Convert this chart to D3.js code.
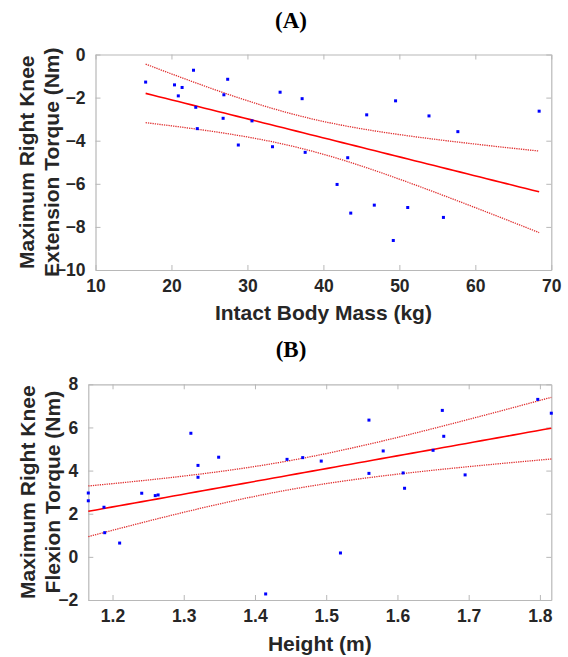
<!DOCTYPE html>
<html>
<head>
<meta charset="utf-8">
<script src="https://cdn.jsdelivr.net/npm/d3@7"></script>
<style>
  body { margin: 0; background: #ffffff; }
  svg { display: block; }
</style>
</head>
<body>
<div id="graph"></div>
<script>
// Panel A: body mass (kg) vs extension torque (Nm)
var massKg = [16.6, 22.9, 20.4, 21.4, 20.9, 27.4, 26.9, 23.2, 26.8, 23.4,
              30.6, 34.3, 37.2, 28.8, 33.3, 37.6, 43.2, 45.7, 49.5, 53.9,
              57.7, 68.4, 41.8, 43.6, 46.7, 51.1, 49.2, 55.8];
var extTorque = [-1.28, -0.73, -1.41, -1.53, -1.92, -1.15, -1.87, -2.45, -2.96, -3.44,
                 -3.08, -1.75, -2.05, -4.20, -4.28, -4.54, -4.79, -2.80, -2.15, -2.85,
                 -3.58, -2.63, -6.03, -7.36, -6.99, -7.10, -8.63, -7.56];

// Panel B: height (m) vs flexion torque (Nm)
var heightM = [1.310, 1.320, 1.320, 1.349, 1.445, 1.467, 1.493, 1.560, 1.580, 1.560,
               1.608, 1.663, 1.665, 1.650, 1.695, 1.797, 1.816, 1.166, 1.166, 1.188,
               1.189, 1.210, 1.241, 1.260, 1.264, 1.415, 1.610, 1.520];
var flexTorque = [5.73, 4.24, 3.69, 4.62, 4.52, 4.60, 4.44, 6.34, 4.91, 3.87,
                  3.89, 6.79, 5.59, 4.94, 3.80, 7.30, 6.66, 2.96, 2.60, 2.30,
                  1.12, 0.64, 2.95, 2.84, 2.87, -1.72, 3.18, 0.18];

var ticksA_x = [10, 20, 30, 40, 50, 60, 70];
var ticksA_y = [-10, -8, -6, -4, -2, 0];
var ticksB_x = [1.2, 1.3, 1.4, 1.5, 1.6, 1.7, 1.8];
var ticksB_y = [-2, 0, 2, 4, 6, 8];

var W = 568, H = 657;
var axisColour = '#b8b8b8';
var textColour = '#262626';

var svg = d3.select('#graph').append('svg')
            .attr('width', W)
            .attr('height', H);

//
// least squares fit with 95% confidence bounds on the mean
//
function fitLine (xs, ys)
{
    var n = xs.length;
    var mx = d3.mean(xs), my = d3.mean(ys);
    var sxx = 0, sxy = 0;
    for (var i = 0; i < n; i++)
    {
        sxx += (xs[i] - mx) * (xs[i] - mx);
        sxy += (xs[i] - mx) * (ys[i] - my);
    }
    var b = sxy / sxx, a = my - b * mx;
    var sse = 0;
    for (var i = 0; i < n; i++)
        sse += Math.pow(ys[i] - (a + b * xs[i]), 2);
    var s = Math.sqrt(sse / (n - 2));
    var t = 2.056;  // t(0.975, 26)

    var x0 = d3.min(xs), x1 = d3.max(xs);
    var pts = [];
    for (var k = 0; k <= 60; k++)
    {
        var x = x0 + (x1 - x0) * k / 60;
        var yh = a + b * x;
        var hw = t * s * Math.sqrt(1 / n + (x - mx) * (x - mx) / sxx);
        pts.push({ x: x, y: yh, lo: yh - hw, hi: yh + hw });
    }
    return pts;
}

function drawPanel (opt)
{
    var g = svg.append('g');
    var xScale = d3.scaleLinear().domain(opt.xDomain).range([opt.left, opt.right]);
    var yScale = d3.scaleLinear().domain(opt.yDomain).range([opt.bottom, opt.top]);

    // title
    svg.append('text')
       .attr('x', 291)
       .attr('y', opt.titleY)
       .attr('text-anchor', 'middle')
       .attr('font-family', '"Liberation Serif", "Times New Roman", serif')
       .attr('font-weight', 'bold')
       .attr('font-size', '23px')
       .attr('fill', '#000')
       .text(opt.title);

    // axes with inward ticks on all four sides
    var inner = 5;
    g.append('g')
     .attr('transform', 'translate(0,' + opt.bottom + ')')
     .call(d3.axisBottom(xScale).tickValues(opt.xTicks).tickFormat(opt.xFormat)
             .tickSizeInner(-inner).tickSizeOuter(0).tickPadding(10));
    g.append('g')
     .attr('transform', 'translate(0,' + opt.top + ')')
     .call(d3.axisTop(xScale).tickValues(opt.xTicks).tickSizeInner(-inner).tickSizeOuter(0).tickFormat(''));
    g.append('g')
     .attr('transform', 'translate(' + opt.left + ',0)')
     .call(d3.axisLeft(yScale).tickValues(opt.yTicks).tickFormat(d3.format('d'))
             .tickSizeInner(-inner).tickSizeOuter(0).tickPadding(10));
    g.append('g')
     .attr('transform', 'translate(' + opt.right + ',0)')
     .call(d3.axisRight(yScale).tickValues(opt.yTicks).tickSizeInner(-inner).tickSizeOuter(0).tickFormat(''));

    g.selectAll('.domain').attr('stroke', axisColour).attr('stroke-width', 1.2);
    g.selectAll('.tick line').attr('stroke', axisColour).attr('stroke-width', 1);
    g.selectAll('.tick text')
     .attr('font-family', 'Arial, "Liberation Sans", sans-serif')
     .attr('font-weight', 'bold')
     .attr('font-size', '17.5px')
     .attr('fill', textColour);

    // fit and confidence bounds
    var pts = fitLine(opt.xs, opt.ys);
    var mk = function (key) {
        return d3.line().x(function(d) { return xScale(d.x); })
                        .y(function(d) { return yScale(d[key]); });
    };
    g.append('path').datum(pts).attr('d', mk('hi'))
     .attr('fill', 'none').attr('stroke', '#e03030').attr('stroke-width', 1.3)
     .attr('stroke-dasharray', '1.3,1');
    g.append('path').datum(pts).attr('d', mk('lo'))
     .attr('fill', 'none').attr('stroke', '#e03030').attr('stroke-width', 1.3)
     .attr('stroke-dasharray', '1.3,1');
    g.append('path').datum(pts).attr('d', mk('y'))
     .attr('fill', 'none').attr('stroke', '#ff0000').attr('stroke-width', 1.6);

    // data points
    g.selectAll('rect.pt')
     .data(opt.xs)
     .enter()
     .append('rect')
     .attr('class', 'pt')
     .attr('x', function(d) { return xScale(d) - 1.5; })
     .attr('y', function(d, i) { return yScale(opt.ys[i]) - 1.5; })
     .attr('width', 3)
     .attr('height', 3)
     .attr('fill', '#0000ff');

    // x label
    svg.append('text')
       .attr('x', (opt.left + opt.right) / 2)
       .attr('y', opt.bottom + opt.xLabelDy)
       .attr('text-anchor', 'middle')
       .attr('font-family', 'Arial, "Liberation Sans", sans-serif')
       .attr('font-weight', 'bold')
       .attr('font-size', '21px')
       .attr('fill', textColour)
       .text(opt.xLabel);

    // y label, two lines
    var cy = (opt.top + opt.bottom) / 2;
    opt.yLabel.forEach(function (line, i) {
        var bx = opt.yLabelX[i];
        svg.append('text')
           .attr('transform', 'translate(' + bx + ',' + cy + ') rotate(-90)')
           .attr('text-anchor', 'middle')
           .attr('font-family', 'Arial, "Liberation Sans", sans-serif')
           .attr('font-weight', 'bold')
           .attr('font-size', '21px')
           .attr('fill', textColour)
           .text(line);
    });
}

drawPanel({
    title: '(A)', titleY: 28,
    xs: massKg, ys: extTorque,
    xDomain: [10, 70], yDomain: [-10, 0],
    xTicks: ticksA_x, yTicks: ticksA_y, xFormat: d3.format('d'),
    left: 95.5, right: 551.3, top: 54.5, bottom: 270,
    xLabel: 'Intact Body Mass (kg)', xLabelDy: 50,
    yLabel: ['Maximum Right Knee', 'Extension Torque (Nm)'], yLabelX: [34, 59]
});

drawPanel({
    title: '(B)', titleY: 357,
    xs: heightM, ys: flexTorque,
    xDomain: [d3.min(heightM), d3.max(heightM)], yDomain: [-2, 8],
    xTicks: ticksB_x, yTicks: ticksB_y, xFormat: d3.format('.1f'),
    left: 88.3, right: 551.3, top: 384.3, bottom: 600,
    xLabel: 'Height (m)', xLabelDy: 51,
    yLabel: ['Maximum Right Knee', 'Flexion Torque (Nm)'], yLabelX: [35, 60]
});
</script>
</body>
</html>
